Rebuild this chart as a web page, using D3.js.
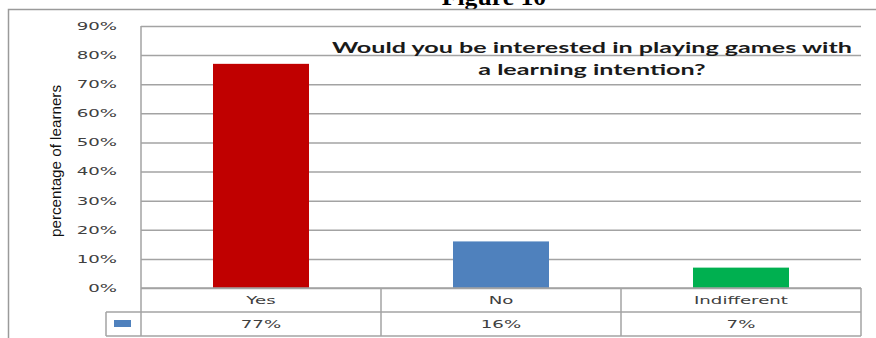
<!DOCTYPE html>
<html>
<head>
<meta charset="utf-8">
<script src="https://cdn.jsdelivr.net/npm/d3@7"></script>
<style>
  html, body { margin: 0; padding: 0; background: #fff; }
  svg { display: block; }
</style>
</head>
<body>
<svg id="chart" width="876" height="338"></svg>
<script>
// Survey answers and their shares of learners
const categories = ["Yes", "No", "Indifferent"];
const values = [0.77, 0.16, 0.07];
const valueLabels = ["77%", "16%", "7%"];
const barColors = ["#C00000", "#4F81BD", "#00B050"];
const seriesColor = "#4F81BD";
const yTicks = [0, 0.1, 0.2, 0.3, 0.4, 0.5, 0.6, 0.7, 0.8, 0.9];
const titleLines = ["Would you be interested in playing games with", "a learning intention?"];
const yAxisTitle = "percentage of learners";
const figureCaption = "Figure 10";

const svg = d3.select("#chart");
const W = 876, H = 338;

const plot = { left: 141, right: 861, top: 26, bottom: 288 };
const rowH = 24;
const gridColor = "#a3a3a3";
const textColor = "#404040";

// Widen glyphs horizontally by factor k (keeps anchor behaviour)
function stretch(sel, k) {
  sel.each(function () {
    const w = this.getComputedTextLength();
    d3.select(this).attr("textLength", w * k).attr("lengthAdjust", "spacingAndGlyphs");
  });
}

const y = d3.scaleLinear().domain([0, 0.9]).range([plot.bottom, plot.top]);
const cols = d3.scaleBand().domain(categories).range([plot.left, plot.right]).padding(0);
const x = d3.scaleBand().domain(categories).range([plot.left, plot.right])
  .paddingInner(0.6).paddingOuter(0.3);

// Caption above the frame (partly above the page edge)
const cap = svg.append("text")
  .attr("x", 494).attr("y", 5)
  .attr("text-anchor", "middle")
  .attr("font-family", "Liberation Serif, Times New Roman, serif")
  .attr("font-weight", "bold")
  .attr("font-size", 24)
  .attr("fill", "#000")
  .text(figureCaption);
stretch(cap, 1.07);

// Outer chart frame
svg.append("path")
  .attr("d", `M8.5,${H} V9.5 H${W}`)
  .attr("fill", "none")
  .attr("stroke", "#9a9a9a")
  .attr("stroke-width", 1.5);

// Horizontal gridlines
const yAxis = d3.axisLeft(y).tickValues(yTicks).tickSize(-(plot.right - plot.left)).tickFormat("");
const gy = svg.append("g").attr("transform", `translate(${plot.left},0)`).call(yAxis);
gy.select(".domain").remove();
gy.selectAll(".tick line").attr("stroke", gridColor).attr("stroke-width", 1.5);

// Tick labels
const tl = svg.append("g").selectAll("text").data(yTicks).join("text")
  .attr("x", 117).attr("y", d => y(d)).attr("dy", "0.35em")
  .attr("text-anchor", "end")
  .attr("font-family", "DejaVu Sans, Verdana, sans-serif")
  .attr("font-size", 11)
  .attr("fill", textColor)
  .text(d => d3.format(".0%")(d));
stretch(tl, 1.65);

// Vertical axis line
svg.append("line")
  .attr("x1", plot.left).attr("x2", plot.left)
  .attr("y1", plot.top).attr("y2", plot.bottom)
  .attr("stroke", gridColor).attr("stroke-width", 1.5);

// Bars
svg.append("g").selectAll("rect").data(categories).join("rect")
  .attr("x", d => x(d))
  .attr("width", x.bandwidth())
  .attr("y", (d, i) => y(values[i]))
  .attr("height", (d, i) => y(0) - y(values[i]))
  .attr("fill", (d, i) => barColors[i]);

// Chart title
const tt = svg.append("g").selectAll("text").data(titleLines).join("text")
  .attr("x", 592).attr("y", (d, i) => 53 + i * 22)
  .attr("text-anchor", "middle")
  .attr("font-family", "Lato, Carlito, Calibri, sans-serif")
  .attr("font-weight", "bold")
  .attr("font-size", 15.5)
  .attr("fill", "#1a1a1a")
  .text(d => d);
stretch(tt, 1.62);

// Y axis title
const yt = svg.append("text")
  .attr("transform", "translate(61,161) rotate(-90)")
  .attr("text-anchor", "middle")
  .attr("font-family", "Liberation Sans Narrow, Arial Narrow, Liberation Sans, sans-serif")
  .attr("font-size", 14)
  .attr("fill", "#111")
  .text(yAxisTitle);
yt.attr("textLength", 152).attr("lengthAdjust", "spacingAndGlyphs");

// Data table under the axis
const table = svg.append("g");
const legendLeft = 106;
const r1 = plot.bottom, r2 = plot.bottom + rowH, r3 = plot.bottom + 2 * rowH;
const tableLines = [
  [plot.left, r1, plot.right, r1],
  [legendLeft, r2, plot.right, r2],
  [legendLeft, r3, plot.right, r3],
  [legendLeft, r2, legendLeft, r3],
  [plot.left, r1, plot.left, r3],
  ...categories.map(c => [cols(c) + cols.bandwidth(), r1, cols(c) + cols.bandwidth(), r3])
];
table.selectAll("line").data(tableLines).join("line")
  .attr("x1", d => d[0]).attr("y1", d => d[1])
  .attr("x2", d => d[2]).attr("y2", d => d[3])
  .attr("stroke", gridColor).attr("stroke-width", 1.5);

// Legend key
table.append("rect")
  .attr("x", 114).attr("y", r2 + 8).attr("width", 17).attr("height", 7)
  .attr("fill", seriesColor);

const catText = table.append("g").selectAll("text").data(categories).join("text")
  .attr("x", d => cols(d) + cols.bandwidth() / 2)
  .attr("y", (r1 + r2) / 2).attr("dy", "0.35em")
  .attr("text-anchor", "middle")
  .attr("font-family", "DejaVu Sans, Verdana, sans-serif")
  .attr("font-size", 11)
  .attr("fill", textColor)
  .text(d => d);
stretch(catText, 1.65);

const valText = table.append("g").selectAll("text").data(categories).join("text")
  .attr("x", d => cols(d) + cols.bandwidth() / 2)
  .attr("y", (r2 + r3) / 2).attr("dy", "0.35em")
  .attr("text-anchor", "middle")
  .attr("font-family", "DejaVu Sans, Verdana, sans-serif")
  .attr("font-size", 11)
  .attr("fill", textColor)
  .text((d, i) => valueLabels[i]);
stretch(valText, 1.65);
</script>
</body>
</html>
